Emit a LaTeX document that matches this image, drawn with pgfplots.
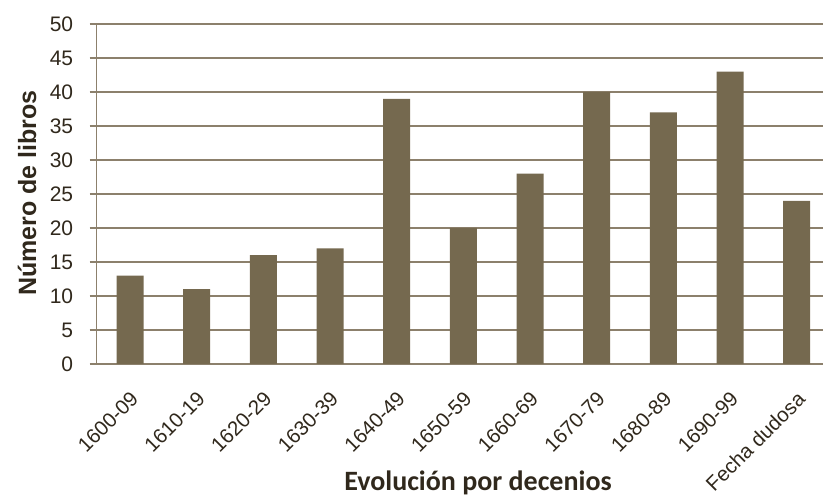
\documentclass[border=0pt]{standalone}
\usepackage{fontspec}
\setmainfont{Liberation Sans}
\newfontfamily\titlefont{Carlito}
\usepackage{pgfplots}
\pgfplotsset{compat=1.18}

\definecolor{barcol}{RGB}{117,105,79}
\definecolor{gridcol}{RGB}{140,128,108}
\definecolor{textcol}{RGB}{48,40,28}

\begin{document}
\begin{tikzpicture}[x=1pt,y=1pt]
\useasboundingbox (0,0) rectangle (823,495);
\begin{axis}[
  at={(96.7pt,131pt)}, anchor=south west,
  scale only axis, width=733.3pt, height=340pt,
  xmin=-0.5, xmax=10.5, ymin=0, ymax=50,
  axis lines*=left,
  axis line style={gridcol, line width=1.3pt},
  ybar, bar width=27pt,
  ytick={0,5,...,50},
  ymajorgrids,
  grid style={gridcol, line width=1.3pt},
  tick align=outside,
  major tick length=7pt,
  ytick style={gridcol, line width=1.3pt},
  xtick={0,...,10},
  xtick style={draw=none},
  xticklabels={1600-09,1610-19,1620-29,1630-39,1640-49,1650-59,1660-69,1670-79,1680-89,1690-99,Fecha dudosa},
  /pgf/number format/assume math mode=true,
  yticklabel style={font=\fontsize{21}{21}\selectfont, text=textcol, xshift=-13pt},
  xticklabel style={font=\fontsize{20.5}{20.5}\selectfont, text=textcol, xshift=7pt, yshift=-22pt, rotate=45, anchor=east},
  ylabel={Número de libros},
  ylabel style={at={(axis description cs:-0.095,0.503)}, rotate=0, anchor=center,
    font=\fontsize{25}{25}\selectfont\bfseries, text=textcol},
  xlabel={Evolución por decenios},
  xlabel style={at={(axis description cs:0.52,-0.3735)}, anchor=base,
    font=\titlefont\fontsize{28}{28}\selectfont\bfseries, text=textcol},
]
\addplot[fill=barcol, draw=none] coordinates {
  (0,13) (1,11) (2,16) (3,17) (4,39) (5,20) (6,28) (7,40) (8,37) (9,43) (10,24)
};
\end{axis}
\end{tikzpicture}
\end{document}
